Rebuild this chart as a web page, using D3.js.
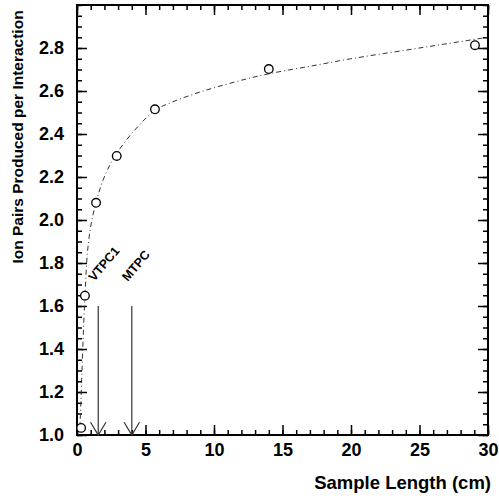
<!DOCTYPE html>
<html lang="en">
<head>
    <meta charset="UTF-8">
    <title>Ion Pairs Produced per Interaction vs Sample Length</title>
    <style>
        body {
            margin: 0;
            padding: 0;
            background-color: #fff;
        }
        svg text {
            font-family: "Liberation Sans", Arial, Helvetica, sans-serif;
            font-weight: bold;
            fill: #000;
        }
        .tick line {
            stroke: #000;
            stroke-width: 1.5;
        }
        .fit {
            fill: none;
            stroke: #333;
            stroke-width: 1;
            stroke-dasharray: 5,3,1,3;
        }
        .pt {
            fill: #fff;
            stroke: #000;
            stroke-width: 1.3;
        }
        .marker-line {
            stroke: #333;
            stroke-width: 1.2;
            fill: none;
        }
    </style>
</head>
<body>
    <svg width="499" height="498"></svg>

    <script src="https://d3js.org/d3.v7.min.js"></script>
    <script>
        // measured points
        const sampleLength = [0.3, 0.58, 1.39, 2.9, 5.69, 14.0, 29.05];
        const ionPairs = [1.033, 1.648, 2.08, 2.298, 2.515, 2.702, 2.813];

        // fitted curve
        const fitX = [0.2, 0.29, 0.42, 0.58, 0.75, 0.95, 1.15, 1.4, 1.7, 2.2, 2.9, 4.1, 5.7, 7, 8.5, 10, 12, 14, 17, 20, 24, 27, 30];
        const fitY = [1.02, 1.16, 1.40, 1.65, 1.84, 1.95, 2.02, 2.08, 2.15, 2.23, 2.31, 2.41, 2.51, 2.55, 2.585, 2.615, 2.65, 2.68, 2.715, 2.75, 2.79, 2.82, 2.85];

        // chamber markers
        const chamberNames = ["VTPC1", "MTPC"];
        const chamberX = [1.55, 4.0];
        const arrowTop = 1.6;

        const xMajor = [0, 5, 10, 15, 20, 25, 30];
        const yMajor = [1.0, 1.2, 1.4, 1.6, 1.8, 2.0, 2.2, 2.4, 2.6, 2.8];

        const svg = d3.select("svg");
        const margin = {top: 5, right: 11, bottom: 63, left: 77};
        const W = +svg.attr("width"), H = +svg.attr("height");

        const x = d3.scaleLinear().domain([0, 30]).range([margin.left, W - margin.right]);
        const y = d3.scaleLinear().domain([1, 3]).range([H - margin.bottom, margin.top]);

        const xMinor = d3.range(0, 31, 1);
        const yMinor = d3.range(1, 3.001, 0.05);

        svg.append("defs").append("clipPath").attr("id", "plot")
            .append("rect")
            .attr("x", x(0)).attr("y", y(3))
            .attr("width", x(30) - x(0)).attr("height", y(1) - y(3));

        function addAxis(axis, transform, showLabels) {
            const g = svg.append("g").attr("transform", transform).call(axis);
            g.select(".domain").remove();
            if (!showLabels) g.selectAll("text").remove();
            return g;
        }

        // minor ticks on all four sides
        addAxis(d3.axisBottom(x).tickValues(xMinor).tickSize(-5).tickFormat(""), `translate(0,${y(1)})`, false);
        addAxis(d3.axisTop(x).tickValues(xMinor).tickSize(-5).tickFormat(""), `translate(0,${y(3)})`, false);
        addAxis(d3.axisLeft(y).tickValues(yMinor).tickSize(-5).tickFormat(""), `translate(${x(0)},0)`, false);
        addAxis(d3.axisRight(y).tickValues(yMinor).tickSize(-5).tickFormat(""), `translate(${x(30)},0)`, false);

        // major ticks
        const xAx = addAxis(d3.axisBottom(x).tickValues(xMajor).tickSize(-10).tickPadding(8).tickFormat(d3.format("d")),
            `translate(0,${y(1)})`, true);
        xAx.selectAll("text").style("font-size", "18px").style("font-weight", "bold");
        addAxis(d3.axisTop(x).tickValues(xMajor).tickSize(-10), `translate(0,${y(3)})`, false);

        const yAx = addAxis(d3.axisLeft(y).tickValues(yMajor).tickSize(-10).tickPadding(13).tickFormat(d3.format(".1f")),
            `translate(${x(0)},0)`, true);
        yAx.selectAll("text").style("font-size", "18px").style("font-weight", "bold");
        addAxis(d3.axisRight(y).tickValues(yMajor).tickSize(-10), `translate(${x(30)},0)`, false);

        // frame
        svg.append("rect")
            .attr("x", x(0)).attr("y", y(3))
            .attr("width", x(30) - x(0)).attr("height", y(1) - y(3))
            .attr("fill", "none").attr("stroke", "#000").attr("stroke-width", 2);

        // fit curve
        const fit = fitX.map((d, i) => [d, fitY[i]]);
        svg.append("path")
            .datum(fit)
            .attr("class", "fit")
            .attr("clip-path", "url(#plot)")
            .attr("d", d3.line().x(d => x(d[0])).y(d => y(d[1])).curve(d3.curveCatmullRom.alpha(0.5)));

        // data points
        svg.append("g")
            .selectAll("circle")
            .data(sampleLength.map((d, i) => [d, ionPairs[i]]))
            .join("circle")
            .attr("class", "pt")
            .attr("cx", d => x(d[0]))
            .attr("cy", d => y(d[1]))
            .attr("r", 4.3);

        // chamber arrows
        chamberX.forEach((cx, i) => {
            const px = x(cx);
            svg.append("line").attr("class", "marker-line")
                .attr("x1", px).attr("x2", px)
                .attr("y1", y(arrowTop)).attr("y2", y(1));
            svg.append("path").attr("class", "marker-line")
                .attr("d", `M${px - 7.7},${y(1) - 12.7}L${px},${y(1)}L${px + 7.7},${y(1) - 12.7}`);
            svg.append("text")
                .attr("transform", `translate(${px - 4},${y(arrowTop) - 24}) rotate(-50)`)
                .style("font-size", "12.5px")
                .text(chamberNames[i]);
        });

        // axis titles
        svg.append("text")
            .attr("x", x(30) + 3)
            .attr("y", 489)
            .attr("text-anchor", "end")
            .style("font-size", "18.5px")
            .text("Sample Length (cm)");

        svg.append("text")
            .attr("transform", `translate(23,${137}) rotate(-90)`)
            .attr("text-anchor", "middle")
            .style("font-size", "15.5px")
            .text("Ion Pairs Produced per Interaction");
    </script>
</body>
</html>
